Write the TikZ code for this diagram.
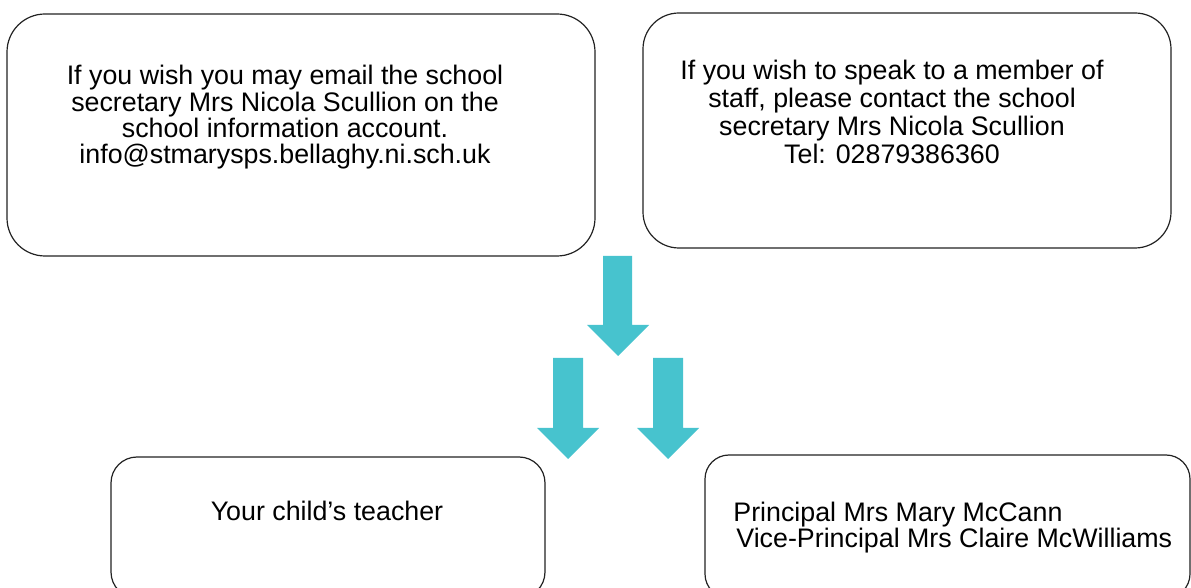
\documentclass[tikz,border=0pt]{standalone}
\usepackage{fontspec}
\setmainfont{Liberation Sans}
\definecolor{arrowteal}{HTML}{47C3CE}
\definecolor{boxline}{HTML}{222222}
\tikzset{
  infobox/.style={draw=boxline, line width=0.6pt},
  boxtext/.style={inner sep=0pt, font=\fontsize{13.4}{13.2}\selectfont},
  bigarrow/.style={fill=arrowteal, draw=none}
}
\begin{document}
\begin{tikzpicture}[x=0.5pt, y=-0.5pt]
\useasboundingbox (0,0) rectangle (1191,588);
\clip (0,0) rectangle (1191,588);
% boxes
\draw[infobox, rounded corners=19pt] (7,14) rectangle (595,256);
\draw[infobox, rounded corners=18pt] (643,13) rectangle (1171,248);
\draw[infobox, rounded corners=13pt] (111,457) rectangle (545,598);
\draw[infobox, rounded corners=12pt] (705,455) rectangle (1190,598);
% texts (base anchor = baseline of last line)
\node[boxtext, align=center, anchor=base] (t1) at (285,164)
  {If you wish you may email the school\\secretary Mrs Nicola Scullion on the\\school information account.\\info@stmarysps.bellaghy.ni.sch.uk};
\node[boxtext, align=center, anchor=base, font=\fontsize{13.4}{14}\selectfont] (t2) at (892,164)
  {If you wish to speak to a member of\\staff, please contact the school\\secretary Mrs Nicola Scullion\\Tel: 02879386360};
\node[boxtext, anchor=base] (t3) at (327,521) {Your child’s teacher};
\node[boxtext, align=left, anchor=base west] (t4) at (733,548)
  {Principal Mrs Mary McCann\\\hspace{1.5pt}Vice-Principal Mrs Claire McWilliams};
% arrows
\fill[bigarrow] (603,256) -- (632,256) -- (632,325) -- (649,325) -- (618,356) -- (587,325) -- (603,325) -- cycle;
\fill[bigarrow] (553,358) -- (583,358) -- (583,428) -- (599,428) -- (568,459) -- (537,428) -- (553,428) -- cycle;
\fill[bigarrow] (653,358) -- (683,358) -- (683,428) -- (699,428) -- (668,459) -- (637,428) -- (653,428) -- cycle;
\end{tikzpicture}
\end{document}
